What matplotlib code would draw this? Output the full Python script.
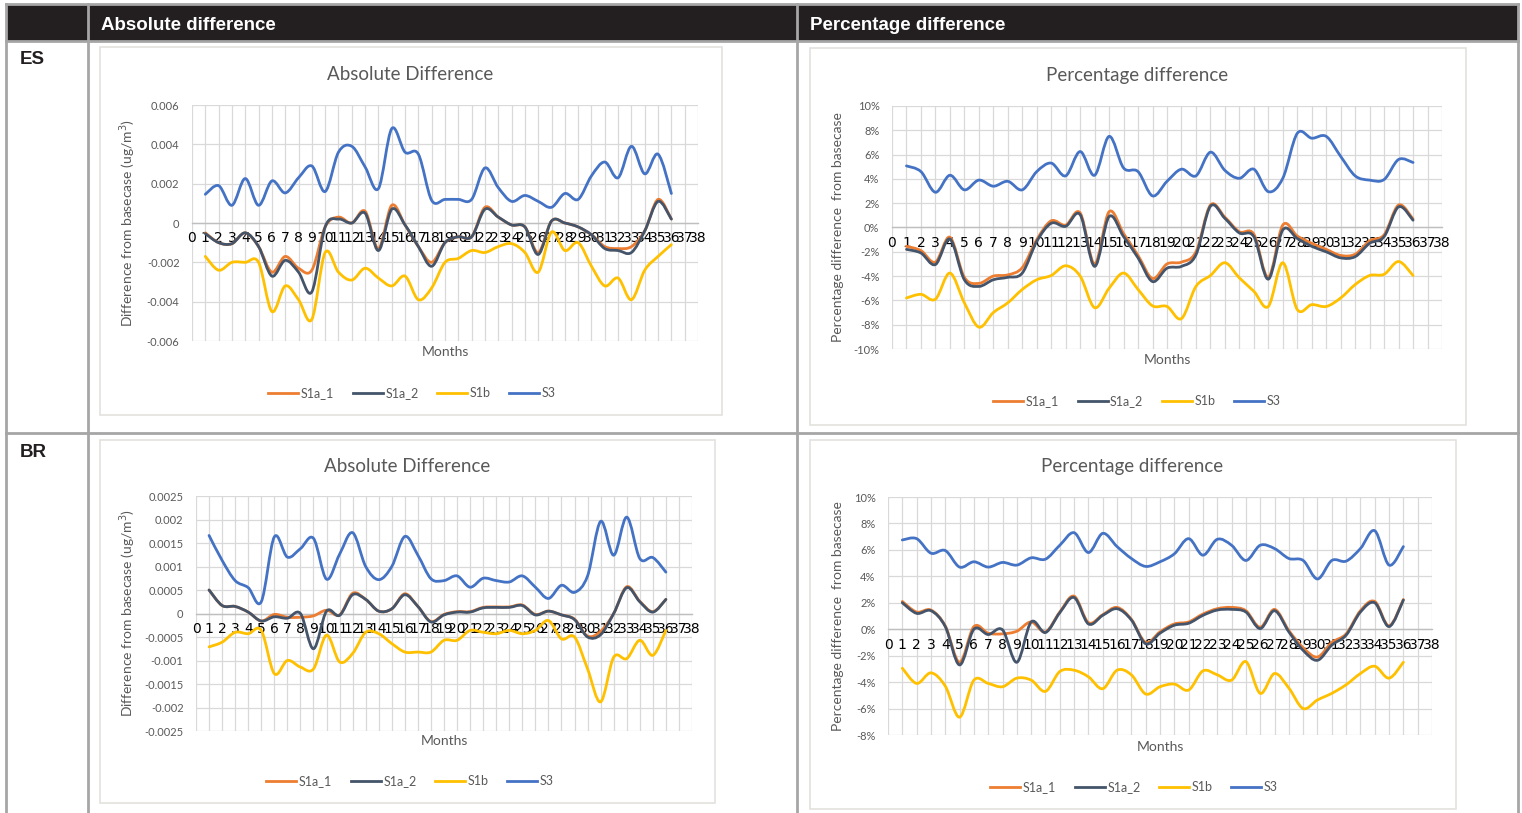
import matplotlib
matplotlib.use("Agg")
import matplotlib.pyplot as plt
import numpy as np
from matplotlib.path import Path
from matplotlib.patches import PathPatch, Rectangle
from matplotlib.lines import Line2D

# monthly differences against the base case, months 1..36
months = list(range(1, 37))
series_names = ["S1a_1", "S1a_2", "S1b", "S3"]
series_colors = ["#ED7D31", "#44546A", "#FFC000", "#4472C4"]

# ES - absolute difference (ug/m3)
es_abs_s1a_1 = [-0.0005, -0.001, -0.00105, -0.0005, -0.0012, -0.0025, -0.0017, -0.0023, -0.0024, -0.0002,
                0.0003, 0.0, 0.0006, -0.0013, 0.0009, -0.0001, -0.0012, -0.002, -0.001, -0.0007,
                -0.0007, 0.0008, 0.0003, -0.0001, -0.0002, -0.0015, 0.0001, 0.0, -0.0002, -0.0006,
                -0.0012, -0.0013, -0.0012, -0.0004, 0.0012, 0.0002]
es_abs_s1a_2 = [-0.00054, -0.001, -0.00105, -0.0005, -0.0012, -0.0027, -0.0019, -0.0025, -0.0035, -0.0002,
                0.0002, 0.0, 0.0005, -0.0014, 0.0007, -0.0001, -0.0012, -0.0022, -0.001, -0.0007,
                -0.0007, 0.0007, 0.0003, -0.0001, -0.0002, -0.0016, 0.0001, 0.0, -0.0002, -0.0006,
                -0.0013, -0.0014, -0.0015, -0.0004, 0.0011, 0.0002]
es_abs_s1b = [-0.0017, -0.0024, -0.002, -0.002, -0.002, -0.0045, -0.0032, -0.0039, -0.0049, -0.0015,
              -0.0025, -0.0029, -0.0023, -0.0028, -0.0032, -0.0027, -0.0039, -0.0033, -0.002, -0.0018,
              -0.0014, -0.0015, -0.0012, -0.00105, -0.0015, -0.0025, -0.00046, -0.0014, -0.001, -0.0022,
              -0.0032, -0.0028, -0.0039, -0.0024, -0.0017, -0.0011]
es_abs_s3 = [0.00146, 0.0019, 0.0009, 0.00226, 0.0009, 0.00214, 0.00153, 0.0023, 0.0029, 0.0016,
             0.0036, 0.0039, 0.00285, 0.00175, 0.0048, 0.0036, 0.0035, 0.00115, 0.0012, 0.0012,
             0.0012, 0.0028, 0.0018, 0.0011, 0.0014, 0.0011, 0.0008, 0.0015, 0.0012, 0.0024,
             0.0031, 0.0023, 0.0039, 0.0025, 0.0035, 0.0015]

# ES - percentage difference (%)
es_pct_s1a_1 = [-1.55, -1.9, -2.85, -0.8, -4.1, -4.6, -4.0, -3.9, -3.3, -1.0,
                0.55, 0.2, 1.2, -3.0, 1.3, -0.5, -2.3, -4.2, -3.0, -2.85,
                -2.0, 1.85, 0.85, -0.35, -0.55, -4.1, 0.2, -0.7, -1.3, -1.8,
                -2.3, -2.2, -1.1, -0.6, 1.85, 0.7]
es_pct_s1a_2 = [-1.8, -2.1, -3.05, -0.95, -4.3, -4.85, -4.3, -4.1, -3.75, -1.15,
                0.35, 0.1, 1.05, -3.2, 0.9, -0.75, -2.5, -4.45, -3.35, -3.2,
                -2.25, 1.75, 0.75, -0.45, -0.75, -4.25, -0.2, -0.9, -1.55, -2.0,
                -2.5, -2.4, -1.3, -0.75, 1.7, 0.6]
es_pct_s1b = [-5.8, -5.5, -5.9, -3.75, -6.2, -8.2, -7.0, -6.2, -5.1, -4.3,
              -3.95, -3.15, -4.0, -6.6, -5.0, -3.75, -5.1, -6.45, -6.5, -7.5,
              -4.85, -3.95, -2.9, -4.15, -5.25, -6.5, -2.9, -6.75, -6.35, -6.5,
              -5.8, -4.7, -3.95, -3.85, -2.8, -3.95]
es_pct_s3 = [5.07, 4.6, 2.9, 4.3, 3.1, 3.9, 3.4, 3.8, 3.1, 4.6,
             5.3, 4.25, 6.25, 4.3, 7.5, 4.9, 4.6, 2.6, 3.8, 4.8,
             4.25, 6.2, 4.7, 4.05, 4.8, 2.95, 4.05, 7.75, 7.35, 7.5,
             5.85, 4.25, 3.9, 3.95, 5.6, 5.35]

# BR - absolute difference (ug/m3)
br_abs_s1a_1 = [0.0005, 0.00017, 0.00015, 0.00003, -0.00016, -0.00002, -0.00008, -0.00008, -0.00005, 0.00007,
                -0.00003, 0.00043, 0.0003, 0.00005, 0.0001, 0.00042, 0.00015, -0.00017, -0.00002, 0.00004,
                0.00004, 0.00013, 0.00014, 0.00014, 0.00018, -0.00002, 0.00005, -0.00003, -0.00012, -0.00048,
                -0.00038, 0.0, 0.00057, 0.00026, 0.00004, 0.0003]
br_abs_s1a_2 = [0.0005, 0.00017, 0.00015, 0.00003, -0.00016, -0.00007, -0.0001, 0.0, -0.00075, 0.00005,
                -0.00004, 0.0004, 0.0003, 0.00005, 0.0001, 0.0004, 0.00015, -0.00018, -0.00003, 0.00003,
                0.00003, 0.00012, 0.00013, 0.00013, 0.00017, -0.00003, 0.00005, -0.00003, -0.00013, -0.0005,
                -0.00045, 0.0, 0.00055, 0.00025, 0.00003, 0.0003]
br_abs_s1b = [-0.00071, -0.00061, -0.0004, -0.00043, -0.00036, -0.00128, -0.001, -0.00114, -0.00118, -0.00046,
              -0.00103, -0.00085, -0.0004, -0.00043, -0.00064, -0.00082, -0.00082, -0.00082, -0.00057, -0.00057,
              -0.00036, -0.0004, -0.00043, -0.00036, -0.00043, -0.00036, -0.00015, -0.00054, -0.0005, -0.00118,
              -0.00188, -0.00093, -0.00096, -0.00057, -0.00089, -0.00036]
br_abs_s3 = [0.00166, 0.00113, 0.0007, 0.00055, 0.00025, 0.00163, 0.0012, 0.00138, 0.0016, 0.00073,
             0.00126, 0.00172, 0.001, 0.00072, 0.001, 0.00164, 0.00124, 0.00074, 0.0007, 0.0008,
             0.00056, 0.00075, 0.0007, 0.00067, 0.0008, 0.00056, 0.00032, 0.0006, 0.00045, 0.0008,
             0.00196, 0.00124, 0.00205, 0.00117, 0.00119, 0.00088]

# BR - percentage difference (%)
br_pct_s1a_1 = [2.1, 1.3, 1.45, 0.25, -2.5, 0.2, -0.3, -0.35, -0.15, 0.55,
                -0.2, 1.3, 2.5, 0.5, 1.1, 1.65, 0.75, -1.0, -0.2, 0.4,
                0.55, 1.15, 1.55, 1.65, 1.4, 0.15, 1.5, -0.1, -1.4, -2.1,
                -1.0, -0.35, 1.4, 2.1, 0.25, 2.25]
br_pct_s1a_2 = [2.0, 1.2, 1.4, 0.2, -2.7, 0.0, -0.4, -0.05, -2.5, 0.55,
                -0.25, 1.25, 2.4, 0.4, 1.05, 1.55, 0.7, -1.1, -0.3, 0.3,
                0.45, 1.05, 1.45, 1.5, 1.3, 0.05, 1.4, -0.2, -1.6, -2.35,
                -1.2, -0.45, 1.3, 2.0, 0.2, 2.2]
br_pct_s1b = [-2.95, -4.1, -3.3, -4.3, -6.65, -3.85, -4.1, -4.35, -3.7, -3.85,
              -4.7, -3.2, -3.1, -3.6, -4.5, -3.1, -3.45, -4.9, -4.35, -4.15,
              -4.6, -3.15, -3.45, -3.85, -2.45, -4.85, -3.35, -4.45, -6.0, -5.35,
              -4.85, -4.2, -3.35, -2.8, -3.7, -2.5]
br_pct_s3 = [6.75, 6.85, 5.75, 5.95, 4.7, 5.1, 4.7, 5.05, 4.85, 5.4,
             5.3, 6.35, 7.3, 5.8, 7.25, 6.25, 5.35, 4.75, 5.1, 5.7,
             6.85, 5.6, 6.8, 6.35, 5.2, 6.35, 6.1, 5.35, 5.2, 3.8,
             5.2, 5.15, 6.1, 7.45, 4.85, 6.25]

W, H = 1522, 813
TXT = "#595959"
GRID = "#D9D9D9"
CHART_FONT = ["Lato", "DejaVu Sans"]
TABLE_FONT = ["Liberation Sans", "DejaVu Sans"]


def fx(x):
    return x / W


def fy(y):
    return 1 - y / H


def smooth_path(xs, ys):
    # Excel style smoothed line: Catmull-Rom segments as cubic Beziers
    pts = np.column_stack([xs, ys]).astype(float)
    n = len(pts)
    verts = [pts[0]]
    codes = [Path.MOVETO]
    for i in range(n - 1):
        p0 = pts[max(i - 1, 0)]
        p3 = pts[min(i + 2, n - 1)]
        c1 = pts[i] + (pts[i + 1] - p0) / 6.0
        c2 = pts[i + 1] - (p3 - pts[i]) / 6.0
        verts += [c1, c2, pts[i + 1]]
        codes += [Path.CURVE4] * 3
    return Path(verts, codes)


def draw_chart(box, plot, title, title_xy, ylabel, ylabel_x, months_y, legend_xy,
               data, ylim, yticks, fmt):
    # faint chart area frame
    bx0, by0, bx1, by1 = box
    fig.patches.append(Rectangle((fx(bx0), fy(by1)), (bx1 - bx0) / W, (by1 - by0) / H,
                                 transform=fig.transFigure, fill=False,
                                 edgecolor="#E4E1DE", lw=1.2, zorder=1))
    x0, y0, x1, y1 = plot
    ax = fig.add_axes([fx(x0), fy(y1), (x1 - x0) / W, (y1 - y0) / H])
    ax.set_xlim(0, 38)
    ax.set_ylim(*ylim)
    ax.set_xticks(range(0, 39))
    ax.set_xticklabels([str(i) for i in range(0, 39)], fontsize=7, color=TXT,
                       family=CHART_FONT)
    ax.set_yticks(yticks)
    ax.set_yticklabels([fmt(v) for v in yticks], fontsize=8, color=TXT,
                       family=CHART_FONT)
    ax.tick_params(axis="both", length=0)
    ax.tick_params(axis="x", pad=6)
    ax.tick_params(axis="y", pad=9)
    for s in ["top", "right", "left"]:
        ax.spines[s].set_visible(False)
    ax.spines["bottom"].set_position(("data", 0))
    ax.spines["bottom"].set_color("#BFBFBF")
    ax.spines["bottom"].set_linewidth(1.0)
    ax.spines["bottom"].set_zorder(1)
    ax.grid(True, color=GRID, lw=0.9, zorder=0)
    ax.set_axisbelow(True)
    for vals, col in zip(data, series_colors):
        ax.add_patch(PathPatch(smooth_path(months, vals), fill=False,
                               edgecolor=col, lw=2.0, capstyle="round",
                               joinstyle="round", zorder=3))
    fig.text(fx(title_xy[0]), fy(title_xy[1]), title, ha="center", va="center",
             fontsize=13.5, color=TXT, family=CHART_FONT)
    fig.text(fx(ylabel_x), fy((y0 + y1) / 2), ylabel, ha="center", va="center",
             rotation=90, fontsize=10, color=TXT, family=CHART_FONT)
    fig.text(fx((x0 + x1) / 2), fy(months_y), "Months", ha="center", va="center",
             fontsize=10, color=TXT, family=CHART_FONT)
    handles = [Line2D([], [], color=c, lw=2.0) for c in series_colors]
    fig.legend(handles, series_names, loc="center",
               bbox_to_anchor=(fx(legend_xy[0]), fy(legend_xy[1])), ncol=4,
               frameon=False, handlelength=2.4, handletextpad=0.2,
               columnspacing=1.5, prop={"family": CHART_FONT, "size": 9},
               labelcolor=TXT)
    return ax


def abs_fmt(v):
    v = round(v, 6)
    return "0" if v == 0 else f"{v:g}"


def pct_fmt(v):
    return f"{int(round(v))}%"


fig = plt.figure(figsize=(W / 100, H / 100), dpi=100)
fig.patch.set_facecolor("white")

# table frame
LINE = "#A6A6A6"
fig.patches.append(Rectangle((fx(6), fy(41)), (1518 - 6) / W, 36 / H,
                             transform=fig.transFigure, facecolor="#231F20",
                             edgecolor="none", zorder=0))
for (xa, ya, xb, yb) in [(6, 4, 1518, 4), (6, 41, 1518, 41), (6, 433, 1518, 433),
                         (6, 4, 6, 813), (1518, 4, 1518, 813),
                         (88, 4, 88, 813), (797, 4, 797, 813)]:
    fig.add_artist(Line2D([fx(xa), fx(xb)], [fy(ya), fy(yb)],
                          transform=fig.transFigure, color=LINE, lw=2.0, zorder=2))

fig.text(fx(101), fy(25), "Absolute difference", ha="left", va="center",
         fontsize=13.5, fontweight="bold", color="white", family=TABLE_FONT)
fig.text(fx(810), fy(25), "Percentage difference", ha="left", va="center",
         fontsize=13.5, fontweight="bold", color="white", family=TABLE_FONT)
fig.text(fx(20), fy(59), "ES", ha="left", va="center",
         fontsize=13.5, fontweight="bold", color="#231F20", family=TABLE_FONT)
fig.text(fx(20), fy(452), "BR", ha="left", va="center",
         fontsize=13.5, fontweight="bold", color="#231F20", family=TABLE_FONT)

abs_label = "Difference from basecase (ug/m$^3$)"
pct_label = "Percentage difference  from basecase"

draw_chart((100, 47, 722, 415), (192, 105, 698, 341), "Absolute Difference", (410, 74),
           abs_label, 128, 352, (412, 393),
           [es_abs_s1a_1, es_abs_s1a_2, es_abs_s1b, es_abs_s3],
           (-0.006, 0.006), np.arange(-0.006, 0.0061, 0.002), abs_fmt)

draw_chart((810, 48, 1466, 425), (892, 106, 1442, 349), "Percentage difference", (1137, 75),
           pct_label, 838, 360, (1137, 401),
           [es_pct_s1a_1, es_pct_s1a_2, es_pct_s1b, es_pct_s3],
           (-10, 10), np.arange(-10, 11, 2), pct_fmt)

draw_chart((100, 440, 715, 803), (196, 496, 692, 731), "Absolute Difference", (407, 466),
           abs_label, 128, 741, (410, 781),
           [br_abs_s1a_1, br_abs_s1a_2, br_abs_s1b, br_abs_s3],
           (-0.0025, 0.0025), np.arange(-0.0025, 0.00251, 0.0005), abs_fmt)

draw_chart((810, 440, 1456, 809), (888, 497, 1432, 735), "Percentage difference", (1132, 466),
           pct_label, 838, 747, (1134, 787),
           [br_pct_s1a_1, br_pct_s1a_2, br_pct_s1b, br_pct_s3],
           (-8, 10), np.arange(-8, 11, 2), pct_fmt)

fig.savefig("out.png", dpi=100, facecolor="white")
